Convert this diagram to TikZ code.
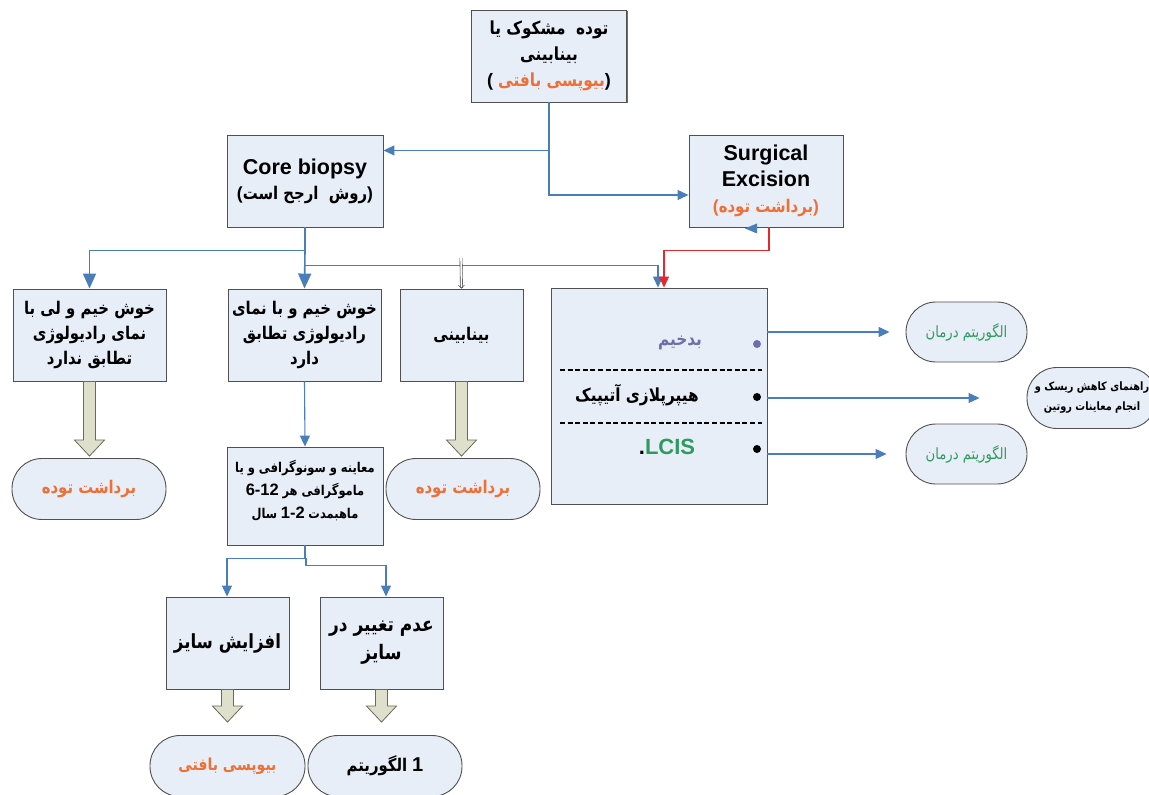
\documentclass[tikz,border=0pt]{standalone}
\usepackage{fontspec}
\setmainfont{Liberation Sans}
\newfontfamily\fa[Script=Arabic,FakeStretch=0.85]{DejaVu Sans}
\TeXXeTstate=1
\usetikzlibrary{arrows.meta,calc,shadows}
\definecolor{boxfill}{HTML}{E8EEF7}
\definecolor{boxline}{HTML}{505050}
\definecolor{bluec}{HTML}{4A7EBB}
\definecolor{redc}{HTML}{E8262D}
\definecolor{orng}{HTML}{EE7036}
\definecolor{grn}{HTML}{2E9B5E}
\definecolor{purp}{HTML}{6E6EA8}
\definecolor{fatfill}{HTML}{DEE0CC}
\definecolor{fatline}{HTML}{6A6A5C}
% Persian run, set right to left
\newcommand\pr[1]{{\fa\beginR #1\endR}}
\newcommand\fs[2]{\fontsize{#1}{#2}\selectfont}
% broad hollow arrow pointing down from one anchor to another
\newcommand\fatdown[2]{%
  \draw[fatarrow] let \p1=(#1), \p2=(#2) in
    (\x1-6pt,\y1) -- (\x1-6pt,\y2+16pt) -- (\x1-15pt,\y2+16pt) -- (\x1,\y2)
    -- (\x1+15pt,\y2+16pt) -- (\x1+6pt,\y2+16pt) -- (\x1+6pt,\y1) -- cycle;}
\begin{document}
\begin{tikzpicture}[x=1pt,y=-1pt,
  box/.style={draw=boxline, fill=boxfill, line width=0.9pt, inner sep=2pt, align=center,
    font=\bfseries\fs{17.5}{25},
    drop shadow={shadow xshift=1.3pt, shadow yshift=-1.3pt, fill=black!70, opacity=0.8}},
  pill/.style={draw=boxline, fill=boxfill, line width=0.9pt, rounded corners=30pt,
    align=center, minimum height=61pt, inner sep=1pt},
  conn/.style={draw=bluec, line width=1.1pt, -{Triangle[length=11pt,width=10pt]}},
  connB/.style={draw=bluec, line width=1.6pt, -{Triangle[length=15pt,width=13pt]}},
  redconn/.style={draw=redc, line width=1.1pt, -{Triangle[length=11pt,width=10pt]}},
  hollow/.style={draw=black!70, line width=0.6pt, double=white, double distance=1.6pt,
    -{Straight Barb[length=3pt,width=6pt]}},
  fatarrow/.style={draw=fatline, fill=fatfill, line width=0.8pt},
  dashline/.style={draw=black, line width=1.6pt, dash pattern=on 5pt off 2.6pt},
  item/.style={font=\bfseries\fs{18}{20}, inner sep=1pt}]
\useasboundingbox (0,0) rectangle (1149,795);
\fill[white] (0,0) rectangle (1149,795);

% ---- rectangular steps ----
\node[box, minimum width=155pt, minimum height=92pt, font=\bfseries\fs{18}{26}] (top) at (549,56)
  {\pr{توده~~مشکوک یا}\\ \pr{بینابینی}\\ (\ \textcolor{orng}{\pr{بیوپسی بافتی}})};
\node[box, minimum width=156pt, minimum height=92pt] (core) at (305,181)
  {{\fs{21.5}{27}Core biopsy}\\ (\pr{روش~~ارجح است})};
\node[box, minimum width=154pt, minimum height=92pt, font=\bfseries\fs{21.5}{26}] (surg) at (766,181)
  {Surgical\\ Excision\\ \textcolor{orng}{{\fs{17.5}{26}(\pr{برداشت توده})}}};
\node[box, minimum width=153pt, minimum height=92pt] (A) at (89.5,335)
  {\pr{خوش خیم و لی با}\\ \pr{نمای رادیولوژی}\\ \pr{تطابق ندارد}};
\node[box, minimum width=153pt, minimum height=92pt] (B) at (304.5,335)
  {\pr{خوش خیم و با نمای}\\ \pr{رادیولوژی تطابق}\\ \pr{دارد}};
\node[box, minimum width=123pt, minimum height=92pt] (C) at (461.5,335) {\pr{بینابینی}};
\node[box, minimum width=216pt, minimum height=216pt] (D) at (659,396) {};
\node[box, minimum width=156pt, minimum height=98pt] (E) at (305,496) {};
\node[align=center, inner sep=1pt, font=\bfseries\fs{13.5}{23}] (Etext) at (305,491)
  {\pr{معاینه و سونوگرافی و یا}\\ {\fs{16.5}{23}6-12} \pr{ماموگرافی هر}\\
   \pr{سال} {\fs{16.5}{23}1-2} \pr{ماهبمدت}};
\node[box, minimum width=123pt, minimum height=92pt, font=\bfseries\fs{19.5}{26}] (F) at (227.5,643) {\pr{افزایش سایز}};
\node[box, minimum width=123pt, minimum height=92pt, font=\bfseries\fs{20}{28}] (G) at (381.5,643)
  {\pr{عدم تغییر در}\\ \pr{سایز}};

% ---- items listed inside the large box ----
\node[item, text=purp] (d1) at (680,343) {\pr{بدخیم}};
\node[item] (d2) at (637,395) {\pr{هیپرپلازی آتیپیک}};
\node[item, font=\bfseries\fs{22}{22}] (d3) at (667,447) {.\textcolor{grn}{LCIS}};
\fill[purp] (757,344) circle (4);
\fill[black] (757,397) circle (4);
\fill[black] (757,449) circle (4);
\draw[dashline] (560,370) -- (762,370);
\draw[dashline] (560,423) -- (762,423);

% ---- rounded outcomes ----
\node[pill, minimum width=154pt, font=\bfseries\fs{17.5}{20}, text=orng] (O1) at (89,489) {\pr{برداشت توده}};
\node[pill, minimum width=154pt, font=\bfseries\fs{17.5}{20}, text=orng] (O2) at (463,489) {\pr{برداشت توده}};
\node[pill, minimum width=155pt, font=\bfseries\fs{16.5}{20}, text=orng] (O3) at (227.5,766) {\pr{بیوپسی بافتی}};
\node[pill, minimum width=154pt, font=\bfseries\fs{17.5}{20}] (O4) at (385,766) {\pr{الگوریتم} {\fs{20}{20}1}};
\node[pill, minimum width=121pt, minimum height=60pt, font=\fs{15.5}{18}, text=grn] (R1) at (966.5,332) {\pr{الگوریتم درمان}};
\node[pill, minimum width=130pt, font=\bfseries\fs{11.5}{20}] (R2) at (1092,398)
  {\pr{راهنمای کاهش ریسک و}\\ \pr{انجام معاینات روتین}};
\node[pill, minimum width=121pt, minimum height=60pt, font=\fs{15.5}{18}, text=grn] (R3) at (966.5,454) {\pr{الگوریتم درمان}};

% ---- connectors ----
\coordinate (t1) at ($(top.south)+(0,48)$);
\draw[conn] (top.south) |- ([yshift=-14pt]surg.west);
\draw[conn] (t1) -- (t1 -| core.east);

\coordinate (c1) at ($(core.south)+(0,23)$);
\coordinate (c2) at ($(core.south)+(0,38)$);
\draw[connB] (core.south) -- (c1) -| (A.north);
\draw[connB] (c1) -- (B.north);
\draw[conn] (c2) -| ([xshift=-1pt]D.north);
\coordinate (c3) at (461,258);
\draw[hollow] (c3) -- (C.north);

\draw[redconn] ([xshift=3pt]surg.south) -- ++(0,23) -| ([xshift=5pt]D.north);
\fill[bluec] ([xshift=-21pt,yshift=-1pt]surg.south) -- ++(12,-5) -- ++(0,10) -- cycle;

\draw[conn] (B.south) -- (E.north);
\coordinate (e1) at ($(E.south)+(1,13)$);
\coordinate (e2) at ($(E.south)+(1,20)$);
\draw[conn] (E.south) -- ++(0,13) -| ([xshift=-0.5pt]F.north);
\draw[conn] (e1) -- (e2) -| ([xshift=4.5pt]G.north);

\draw[conn] (D.east |- R1.west) -- ([xshift=-16pt]R1.west);
\draw[conn] (D.east |- R2.west) -- ([xshift=-47pt]R2.west);
\draw[conn] (D.east |- R3.west) -- ([xshift=-19pt]R3.west);

% ---- broad arrows into outcomes ----
\fatdown{A.south}{[yshift=2pt]O1.north}
\fatdown{C.south}{[yshift=2pt]O2.north}
\fatdown{F.south}{[yshift=13pt]O3.north}
\fatdown{G.south}{[yshift=13pt]O4.north}
\end{tikzpicture}
\end{document}
